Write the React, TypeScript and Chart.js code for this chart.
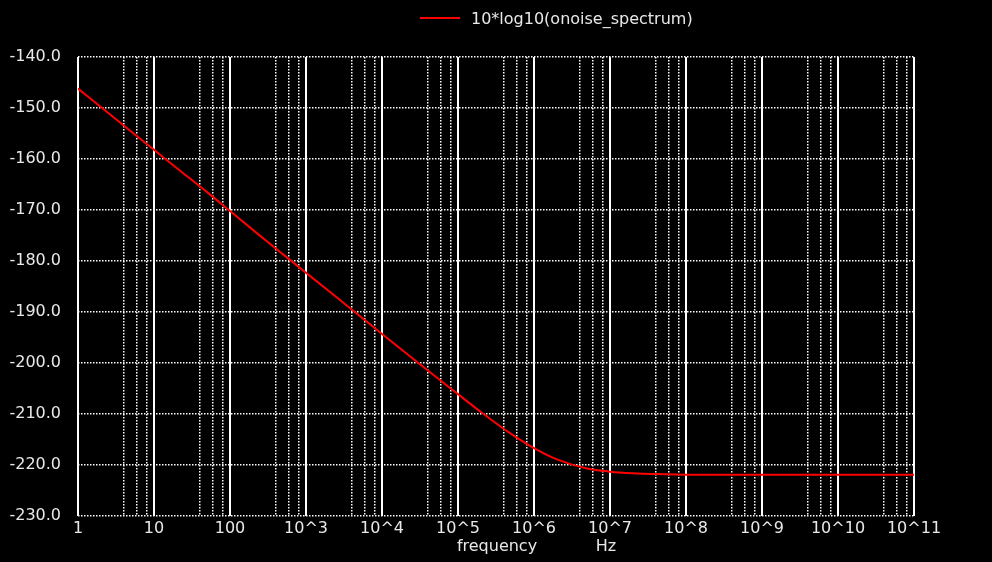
import React, { useEffect, useRef } from "react";
import { Chart, registerables, ChartConfiguration, Plugin } from "chart.js";

Chart.register(...registerables);

// frequency points (Hz) and noise (dB)
const freqs = [
  1, 2, 5, 10, 20, 50, 100, 200, 500, 1e3, 2e3, 5e3, 1e4, 2e4, 5e4, 1e5, 2e5,
  5e5, 1e6, 2e6, 5e6, 1e7, 2e7, 5e7, 1e8, 2e8, 5e8, 1e9, 1e10, 1e11,
];
const noiseDb = [
  -146.2, -149.8, -154.6, -158.2, -161.8, -166.5, -170.2, -173.9, -178.7,
  -182.3, -185.9, -190.7, -194.3, -197.9, -202.6, -206.1, -209.6, -213.9,
  -216.7, -218.9, -220.7, -221.3, -221.6, -221.8, -221.9, -221.9, -221.9,
  -221.9, -221.9, -221.9,
];
const majorTicks = [1, 10, 100, 1e3, 1e4, 1e5, 1e6, 1e7, 1e8, 1e9, 1e10, 1e11];
const minorSteps = [4, 6, 8];
const yTicks = [-230, -220, -210, -200, -190, -180, -170, -160, -150, -140];

const seriesLabel = "10*log10(onoise_spectrum)";
const FONT = "DejaVu Sans";

const fmtFreq = (v: number) => {
  const e = Math.round(Math.log10(v));
  if (e === 0) return "1";
  if (e === 1) return "10";
  if (e === 2) return "100";
  return "10^" + e;
};

const overlay: Plugin<"line"> = {
  id: "overlay",
  beforeDraw(chart) {
    const { ctx, width, height } = chart;
    ctx.save();
    ctx.fillStyle = "#000";
    ctx.fillRect(0, 0, width, height);
    ctx.restore();
  },
  afterDraw(chart) {
    const { ctx, chartArea } = chart;
    ctx.save();
    ctx.font = `16px "${FONT}"`;
    ctx.fillStyle = "#e8e8e8";
    ctx.textBaseline = "middle";
    // legend
    ctx.strokeStyle = "#ff0000";
    ctx.lineWidth = 2;
    ctx.beginPath();
    ctx.moveTo(420, 18);
    ctx.lineTo(460, 18);
    ctx.stroke();
    ctx.textAlign = "left";
    ctx.fillText(seriesLabel, 471, 20);
    // axis title
    ctx.textAlign = "center";
    ctx.fillText("frequency", 497, chartArea.bottom + 31);
    ctx.fillText("Hz", 606, chartArea.bottom + 31);
    ctx.restore();
  },
};

const App: React.FC = () => {
  const canvasRef = useRef<HTMLCanvasElement | null>(null);
  const chartRef = useRef<Chart<"line"> | null>(null);

  useEffect(() => {
    const canvas = canvasRef.current;
    if (!canvas) return;
    const ctx = canvas.getContext("2d");
    if (!ctx) return;
    if (chartRef.current) chartRef.current.destroy();

    const minorTicks: number[] = [];
    majorTicks.slice(0, -1).forEach((d) => {
      minorSteps.forEach((m) => minorTicks.push(d * m));
    });

    const config: ChartConfiguration<"line"> = {
      type: "line",
      data: {
        datasets: [
          {
            label: seriesLabel,
            data: freqs.map((f, i) => ({ x: f, y: noiseDb[i] })),
            borderColor: "#ff0000",
            borderWidth: 2,
            pointRadius: 0,
            cubicInterpolationMode: "monotone",
          },
        ],
      },
      options: {
        animation: false,
        responsive: false,
        devicePixelRatio: 1,
        layout: { padding: { left: 0, right: 78, top: 57, bottom: 0 } },
        plugins: { legend: { display: false }, tooltip: { enabled: false } },
        scales: {
          x: {
            type: "logarithmic",
            position: "bottom",
            min: 1,
            max: 1e11,
            afterBuildTicks: (s) => {
              s.ticks = majorTicks.map((v) => ({ value: v }));
            },
            afterFit: (s) => {
              s.height = 46;
            },
            ticks: {
              color: "#e8e8e8",
              font: { family: FONT, size: 16 },
              padding: 3,
              maxRotation: 0,
              autoSkip: false,
              callback: (v) => fmtFreq(Number(v)),
            },
            grid: { color: "#ffffff", lineWidth: 2, drawTicks: false },
            border: { display: false },
          },
          x2: {
            type: "logarithmic",
            position: "bottom",
            min: 1,
            max: 1e11,
            afterBuildTicks: (s) => {
              s.ticks = minorTicks.map((v) => ({ value: v }));
            },
            afterFit: (s) => {
              s.height = 0;
            },
            ticks: { display: false },
            grid: { color: "#ffffff", lineWidth: 1.5, drawTicks: false },
            border: { display: false, dash: [1.5, 1.5] },
          },
          y: {
            min: -230,
            max: -140,
            afterBuildTicks: (s) => {
              s.ticks = yTicks.map((v) => ({ value: v }));
            },
            afterFit: (s) => {
              s.width = 78;
            },
            ticks: {
              color: "#e8e8e8",
              font: { family: FONT, size: 16 },
              padding: 17,
              callback: (v) => Number(v).toFixed(1),
            },
            grid: { color: "#ffffff", lineWidth: 1.5, drawTicks: false },
            border: { display: false, dash: [1.5, 1.5] },
          },
        },
      },
      plugins: [overlay],
    };

    chartRef.current = new Chart(ctx, config);
    return () => {
      if (chartRef.current) {
        chartRef.current.destroy();
        chartRef.current = null;
      }
    };
  }, []);

  return (
    <div style={{ position: "fixed", left: 0, top: 0, width: 992, height: 562, background: "#000" }}>
      <canvas ref={canvasRef} width={992} height={562} style={{ width: 992, height: 562 }} />
    </div>
  );
};

export default App;
